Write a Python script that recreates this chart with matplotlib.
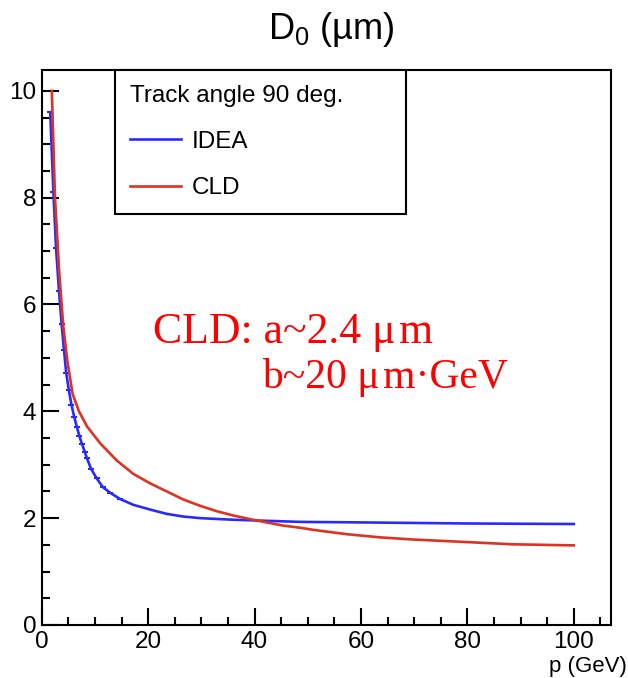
import numpy as np
import matplotlib
matplotlib.use("Agg")
import matplotlib.pyplot as plt
from matplotlib.ticker import MultipleLocator

plt.rcParams['font.family'] = ['Liberation Sans', 'DejaVu Sans']
plt.rcParams['mathtext.fontset'] = 'custom'
plt.rcParams['mathtext.rm'] = 'Liberation Sans'
plt.rcParams['mathtext.it'] = 'Liberation Sans:italic'

# values
idea_p = [1.6, 2.2, 2.7, 3.25, 3.75, 4.2, 4.6, 5.1, 5.6, 6.1, 6.6, 7.1, 7.6, 8.1, 8.5,
          9.3, 10.3, 11.5, 12.8, 14.7, 17.2, 20.4, 23.5, 26.6, 29.8, 36.0, 42.3,
          48.6, 60, 70, 80, 90, 100]
idea_d0 = [9.6, 8.1, 7.05, 6.25, 5.63, 5.14, 4.72, 4.40, 4.12, 3.90, 3.71, 3.53, 3.38,
           3.24, 3.12, 2.92, 2.75, 2.58, 2.48, 2.36, 2.25, 2.16, 2.08, 2.03, 2.00,
           1.97, 1.95, 1.93, 1.92, 1.91, 1.90, 1.895, 1.89]

cld_p = [1.9, 2.5, 3.3, 4.05, 4.8, 5.8, 7.0, 8.5, 11.0, 14.1, 17.2, 20.4, 23.5, 26.6,
         29.8, 32.9, 36.0, 39.2, 42.3, 45.4, 48.6, 51.1, 57.3, 63.6, 69.8, 76.1,
         82.4, 88.6, 100]
cld_d0 = [10.0, 8.0, 6.6, 5.6, 4.96, 4.33, 4.0, 3.72, 3.40, 3.08, 2.83, 2.65, 2.50,
          2.35, 2.23, 2.13, 2.05, 1.98, 1.92, 1.86, 1.82, 1.78, 1.70, 1.64, 1.60,
          1.57, 1.54, 1.51, 1.49]

blue = '#2a2aff'
red = '#dd3322'

fig = plt.figure(figsize=(6.28, 6.78), dpi=100)
ax = fig.add_axes([0.0664, 0.0782, 0.9066, 0.8186])

ax.plot(idea_p, idea_d0, color=blue, lw=1.9, label='IDEA')
# small point markers visible on the steep part
n_mark = sum(1 for p in idea_p if p < 16)
ax.plot(idea_p[:n_mark], idea_d0[:n_mark], ls='none', marker='_', ms=4, mew=1.5, color=blue)
ax.plot(cld_p, cld_d0, color=red, lw=1.9, label='CLD')

ax.set_xlim(0, 107)
ax.set_ylim(0, 10.39)
ax.xaxis.set_major_locator(MultipleLocator(20))
ax.xaxis.set_minor_locator(MultipleLocator(5))
ax.yaxis.set_major_locator(MultipleLocator(2))
ax.yaxis.set_minor_locator(MultipleLocator(0.5))
ax.tick_params(which='both', direction='in', width=1.5, labelsize=17.5)
ax.tick_params(which='major', length=12)
ax.tick_params(which='minor', length=6)
ax.tick_params(axis='x', pad=4)
ax.tick_params(axis='y', pad=4)
for s in ax.spines.values():
    s.set_linewidth(1.5)

ax.set_xlabel('p (GeV)', fontsize=16, ha='right', va='center')
ax.xaxis.set_label_coords(1.028, -0.075)

leg = ax.legend(title='Track angle 90 deg.', loc='upper left',
                bbox_to_anchor=(0.129, 0.75, 0.511, 0.25), mode='expand',
                borderaxespad=0, fontsize=17.5, title_fontsize=17.5,
                fancybox=False, framealpha=1, edgecolor='black',
                handlelength=2.1, handletextpad=0.45, labelspacing=1.0,
                borderpad=0.6)
leg._legend_box.align = 'left'
leg.get_frame().set_linewidth(1.5)

fig.text(0.528, 0.957, 'D$_0$ (\u00b5m)', fontsize=26, ha='center', va='center')

serif = ['Liberation Serif', 'DejaVu Serif']
fig.text(0.244, 0.51, 'CLD: a~2.4 \u03bc\u200am', color='red', fontsize=31.5,
         family=serif, ha='left', va='center')
fig.text(0.417, 0.443, 'b~20 \u03bc\u200am\u00b7GeV', color='red', fontsize=30,
         family=serif, ha='left', va='center')

fig.savefig('out.png', dpi=100)
